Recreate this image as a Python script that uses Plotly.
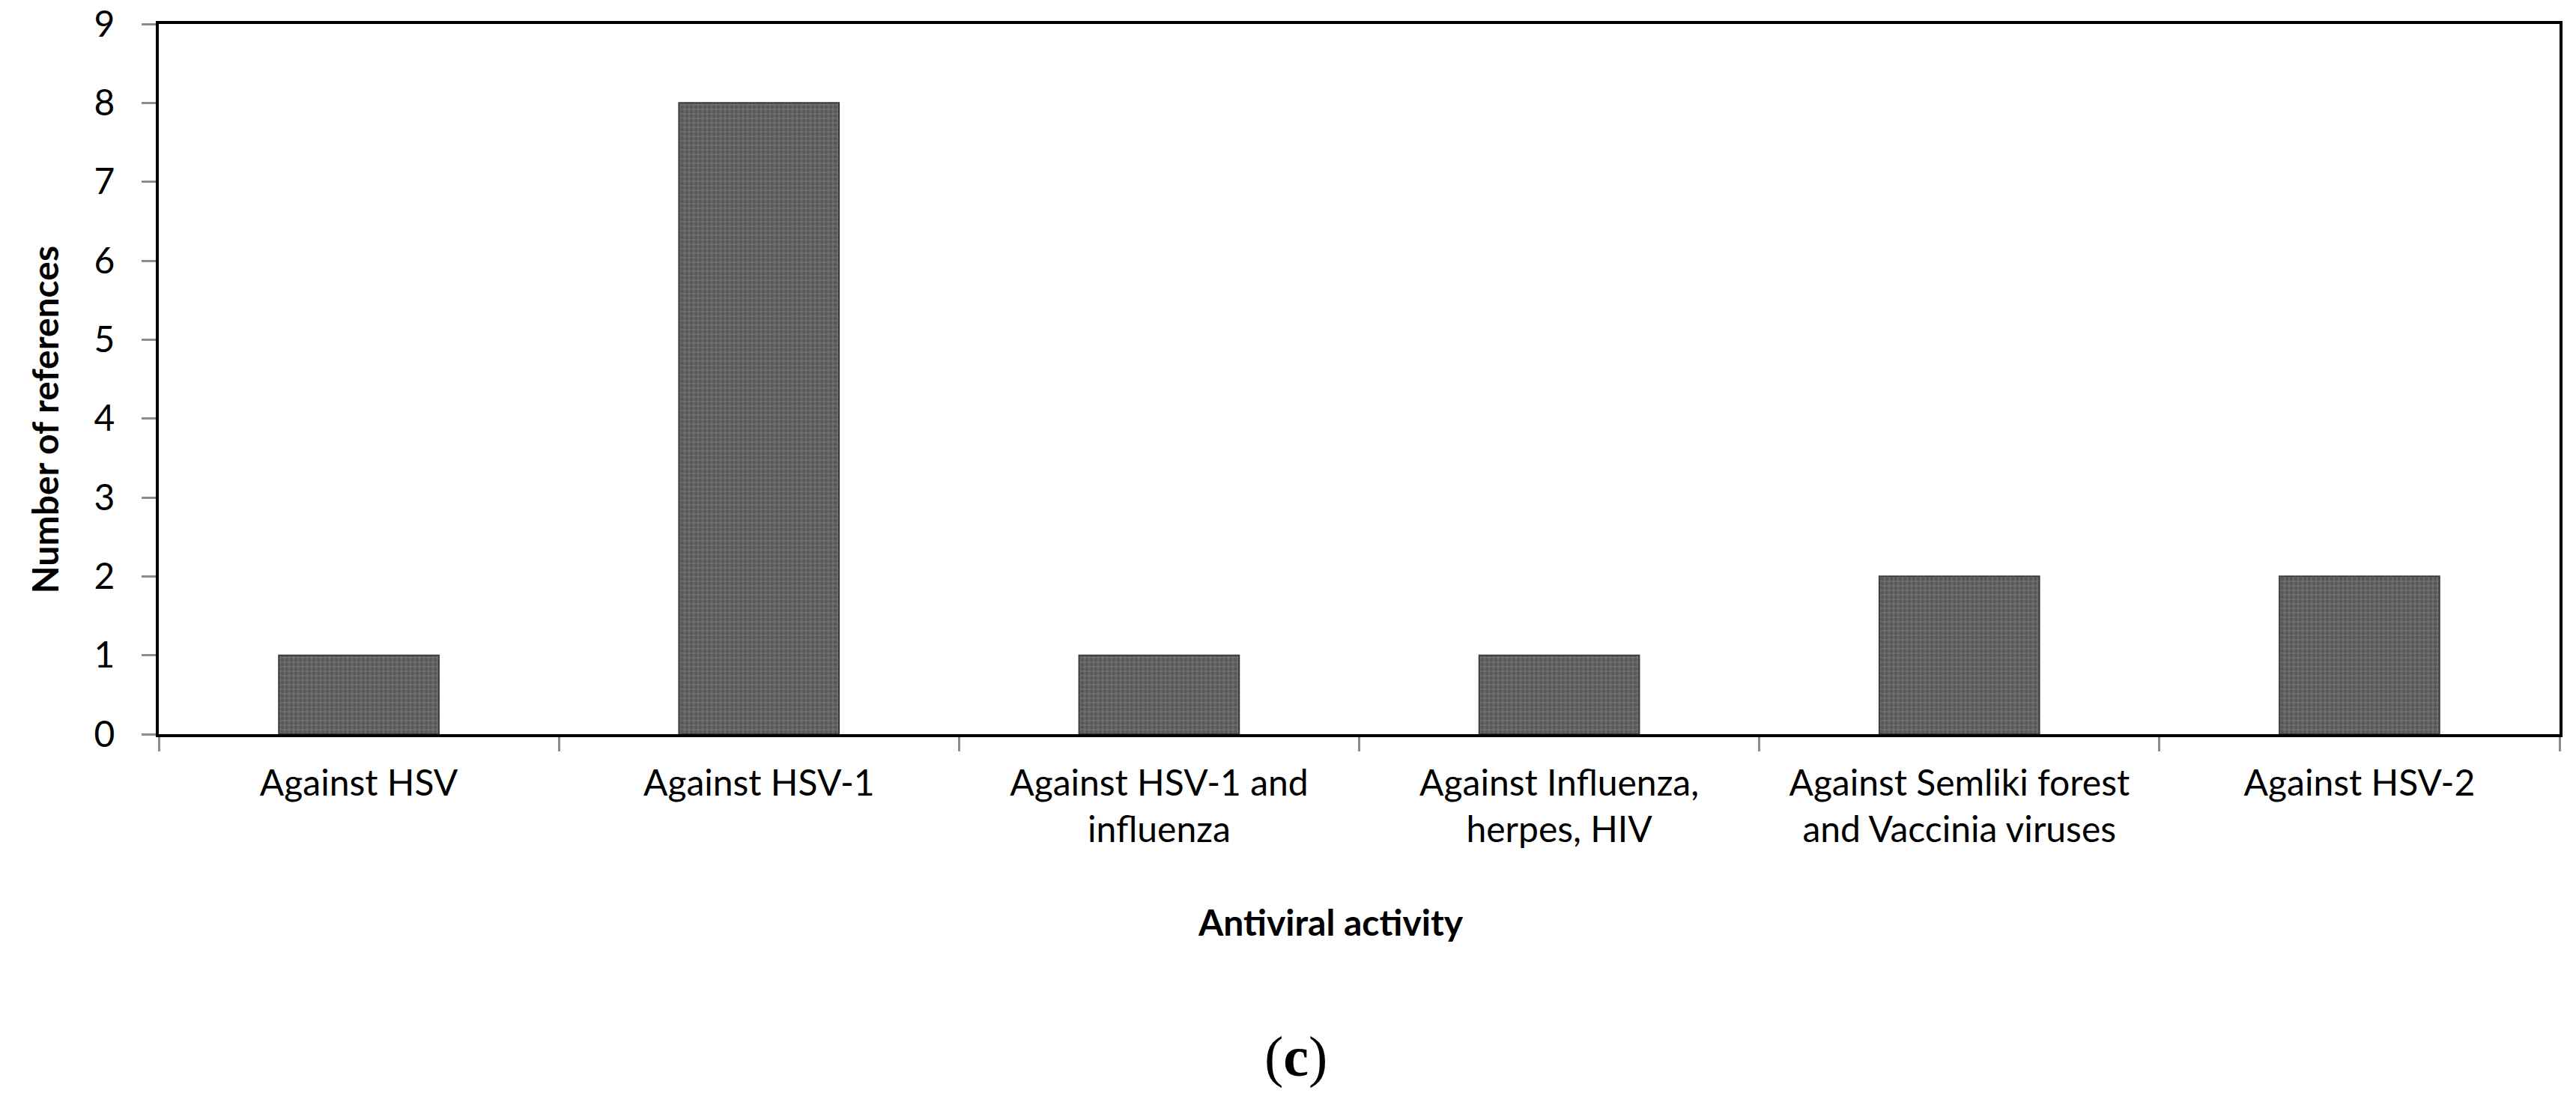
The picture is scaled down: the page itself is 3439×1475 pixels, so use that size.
import plotly.graph_objects as go

# data
categories = [
    "Against HSV",
    "Against HSV-1",
    "Against HSV-1 and<br>influenza",
    "Against Influenza,<br>herpes, HIV",
    "Against Semliki forest<br>and Vaccinia viruses",
    "Against HSV-2",
]
n_references = [1, 8, 1, 1, 2, 2]
y_ticks = list(range(0, 10))

font_main = "Lato, Carlito, Calibri, sans-serif"

fig = go.Figure(
    go.Bar(
        x=categories,
        y=n_references,
        marker=dict(
            color="#666666",
            line=dict(color="#3c3c3c", width=2),
            pattern=dict(shape=".", size=6, solidity=0.5,
                         fgcolor="#575757", bgcolor="#6d6d6d",
                         fillmode="replace"),
        ),
        showlegend=False,
    )
)

fig.update_layout(
    width=3439,
    height=1475,
    margin=dict(l=212, r=22, t=32, b=495),
    paper_bgcolor="white",
    plot_bgcolor="white",
    bargap=0.6,
    font=dict(family=font_main, size=48, color="black"),
)

fig.update_xaxes(
    type="category",
    tickson="boundaries",
    ticks="outside",
    ticklen=19,
    tickwidth=3,
    tickcolor="#8c8c8c",
    showline=True,
    linecolor="black",
    linewidth=4,
    mirror=True,
    showgrid=False,
    automargin=False,
    ticklabelstandoff=20,
    tickfont=dict(size=48),
)

fig.update_yaxes(
    range=[0, 9],
    tickvals=y_ticks,
    ticks="outside",
    ticklen=19,
    tickwidth=3,
    tickcolor="#8c8c8c",
    showline=True,
    linecolor="black",
    linewidth=4,
    mirror=True,
    showgrid=False,
    zeroline=False,
    automargin=False,
    ticklabelstandoff=26,
    ticklabeloverflow="allow",
    tickfont=dict(size=48),
)

# axis titles and panel label
fig.add_annotation(
    text="<b>Number of references</b>",
    xref="paper", yref="paper",
    x=-0.0477, y=0.443,
    xanchor="center", yanchor="middle",
    textangle=-90,
    showarrow=False,
    font=dict(size=48),
)
fig.add_annotation(
    text="<b>Antiviral activity</b>",
    xref="paper", yref="paper",
    x=0.488, y=-0.264,
    xanchor="center", yanchor="middle",
    showarrow=False,
    font=dict(size=48),
)
fig.add_annotation(
    text="(<b>c</b>)",
    xref="paper", yref="paper",
    x=0.4736, y=-0.4536,
    xanchor="center", yanchor="middle",
    showarrow=False,
    font=dict(family="Liberation Serif, DejaVu Serif, serif", size=76),
)

# drop the default 8px page margin so the figure fills the window exactly
fig.write_html(
    "out.html",
    config={"displayModeBar": False},
    post_script="document.body.style.margin='0';",
)
